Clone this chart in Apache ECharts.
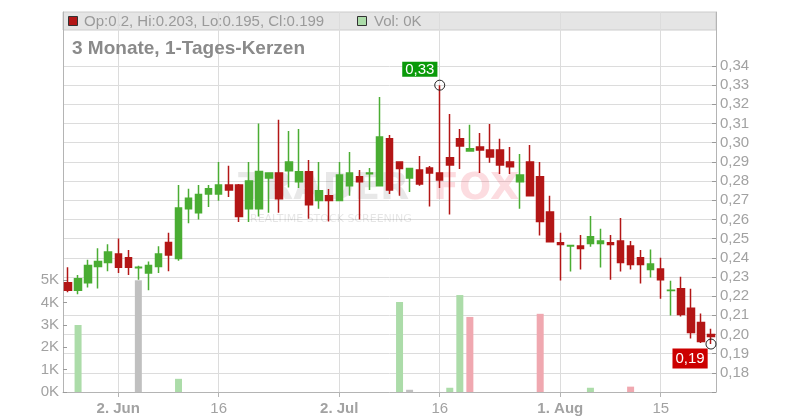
<!DOCTYPE html>
<html>
<head>
<meta charset="utf-8">
<script src="https://cdn.jsdelivr.net/npm/echarts@6/dist/echarts.min.js"></script>
<style>
html,body{margin:0;padding:0;background:#fff;}
#chart{width:800px;height:420px;}
</style>
</head>
<body>
<div id="chart"></div>
<script>
// ---- DATA ----
const dates = [
'2025-05-26','2025-05-27','2025-05-28','2025-05-29','2025-05-30',
'2025-06-02','2025-06-03','2025-06-04','2025-06-05','2025-06-06',
'2025-06-09','2025-06-10','2025-06-11','2025-06-12','2025-06-13',
'2025-06-16','2025-06-17','2025-06-18','2025-06-19','2025-06-20',
'2025-06-23','2025-06-24','2025-06-25','2025-06-26','2025-06-27',
'2025-06-30','2025-07-01','2025-07-02','2025-07-03','2025-07-04',
'2025-07-07','2025-07-08','2025-07-09','2025-07-10','2025-07-11',
'2025-07-14','2025-07-15','2025-07-16','2025-07-17','2025-07-18',
'2025-07-21','2025-07-22','2025-07-23','2025-07-24','2025-07-25',
'2025-07-28','2025-07-29','2025-07-30','2025-07-31','2025-08-01',
'2025-08-04','2025-08-05','2025-08-06','2025-08-07','2025-08-08',
'2025-08-11','2025-08-12','2025-08-13','2025-08-14','2025-08-15',
'2025-08-18','2025-08-19','2025-08-20','2025-08-21','2025-08-22'
];
const opens = [
0.227,0.223,0.227,0.2355,0.2375, 0.242,0.240,0.2348,0.232,0.2355,
0.248,0.2396,0.2655,0.2635,0.2733, 0.2733,0.278,0.278,0.2655,0.2656,
0.2816,0.2842,0.2854,0.2797,0.2848, 0.2698,0.2723,0.2698,0.2775,0.2822,
0.2838,0.2775,0.302,0.290,0.2816, 0.2858,0.2868,0.2842,0.2921,0.302,
0.2957,0.2978,0.2962,0.2962,0.290, 0.2796,0.290,0.2822,0.2639,0.2478,
0.2462,0.2462,0.2474,0.2474,0.2478, 0.2488,0.2462,0.2400,0.2339,0.2342,
0.2229,0.2238,0.2137,0.2062,0.2
];
const highs = [
0.235,0.231,0.239,0.245,0.247, 0.250,0.244,0.2358,0.238,0.246,
0.253,0.278,0.276,0.278,0.278, 0.290,0.288,0.2785,0.290,0.310,
0.2842,0.312,0.3061,0.3072,0.291, 0.290,0.2759,0.290,0.2952,0.2858,
0.2868,0.3238,0.304,0.290,0.2868, 0.2931,0.2879,0.330,0.315,0.3072,
0.3093,0.3051,0.3098,0.302,0.2978, 0.2941,0.2988,0.290,0.2723,0.253,
0.2464,0.2519,0.2618,0.2551,0.2519, 0.2608,0.2488,0.2441,0.2443,0.2400,
0.228,0.2301,0.2238,0.2109,0.203
];
const lows = [
0.222,0.221,0.2245,0.224,0.233, 0.232,0.231,0.2285,0.223,0.232,
0.233,0.2385,0.258,0.260,0.2665, 0.2697,0.2717,0.2587,0.2587,0.2615,
0.2635,0.2635,0.2766,0.2764,0.2604, 0.2656,0.2589,0.2698,0.2723,0.2599,
0.2754,0.2775,0.2733,0.2723,0.2743, 0.2775,0.2667,0.2764,0.2625,0.2863,
0.2957,0.2842,0.2895,0.2837,0.2837, 0.2655,0.2723,0.2516,0.2484,0.2281,
0.2328,0.2339,0.2458,0.2349,0.2286, 0.2328,0.2339,0.2266,0.2297,0.2186,
0.2099,0.2094,0.1979,0.1955,0.195
];
const closes = [
0.223,0.229,0.236,0.238,0.243, 0.235,0.235,0.235,0.236,0.242,
0.2415,0.266,0.271,0.273,0.276, 0.278,0.2754,0.2615,0.280,0.285,
0.2842,0.2708,0.290,0.2848,0.2677, 0.2749,0.2698,0.2832,0.2842,0.2796,
0.2842,0.303,0.2754,0.2865,0.2865, 0.2785,0.2842,0.2806,0.2884,0.2983,
0.2968,0.2962,0.2926,0.2884,0.2874, 0.2832,0.2723,0.2589,0.2484,0.2469,
0.2464,0.2448,0.2509,0.2488,0.2469, 0.2375,0.2365,0.2365,0.2368,0.2286,
0.2231,0.2104,0.201,0.1963,0.199
];
const volumes = [
0,3000,0,0,0, 0,0,5000,0,0,
0,590,0,0,0, 0,0,0,0,0,
0,0,0,0,0, 0,0,0,0,0,
0,0,0,4030,100, 0,0,0,190,4340,
3360,0,0,0,0, 0,0,3500,0,0,
0,0,190,0,0, 0,240,0,0,0,
0,0,0,0,0
];
const tickDates = ['2025-06-02','2025-06-16','2025-07-02','2025-07-16','2025-08-01','2025-08-15'];
const tickLabels = ['2. Jun','16','2. Jul','16','1. Aug','15'];
const titleText = '3 Monate, 1-Tages-Kerzen';

// ---- STYLE ----
const FONT = '"Liberation Sans", Arial, sans-serif';
const UP = '#4aad33', DOWN = '#b31616';
const VOL_UP = '#acdca9', VOL_DOWN = '#f0a8b0', VOL_FLAT = '#c0c0c0';
const GRID_C = '#dcdcdc', AXIS_C = '#b4b4b4', TEXT_C = '#a2a2a2';

const candleData = dates.map((d, i) => [opens[i], closes[i], lows[i], highs[i]]);
const isTick = (idx, val) => tickDates.indexOf(val) >= 0;
const fmtPrice = v => (Math.floor(v * 100 + 1e-9) / 100).toFixed(2).replace('.', ',');
const last = dates.length - 1;
const legendText = 'Op:' + opens[last] + ', Hi:' + highs[last] + ', Lo:' + lows[last] + ', Cl:' + closes[last];
const volText = 'Vol: ' + Math.round(volumes[last] / 1000) + 'K';

const chart = echarts.init(document.getElementById('chart'), null, {renderer: 'canvas'});
const L = 63, R = 84, B = 28;

chart.setOption({
  animation: false,
  textStyle: {fontFamily: FONT},
  title: {
    text: titleText, left: 67, top: 34,
    textStyle: {fontFamily: FONT, fontSize: 19, fontWeight: 'bold', color: '#8a8a8a'}
  },
  grid: [
    {left: L, right: R, top: 12, height: 54},
    {left: L, right: R, top: 66, bottom: B},
    {left: L, right: R, top: 280.3, bottom: B}
  ],
  xAxis: [
    {gridIndex: 0, type: 'category', data: dates, boundaryGap: true,
     axisLine: {show: false}, axisTick: {show: false},
     axisLabel: {show: false, interval: isTick},
     splitLine: {show: true, interval: isTick, alignWithLabel: true, lineStyle: {color: GRID_C, width: 1}}},
    {gridIndex: 1, type: 'category', data: dates, boundaryGap: true,
     axisLine: {show: true, lineStyle: {color: AXIS_C}},
     axisTick: {show: true, interval: isTick, alignWithLabel: true, length: 5, lineStyle: {color: AXIS_C}},
     axisLabel: {interval: isTick, margin: 9, fontSize: 15, color: TEXT_C, fontFamily: FONT,
       formatter: v => {
         const k = tickDates.indexOf(v);
         if (k < 0) return '';
         const t = tickLabels[k];
         return t.indexOf('.') >= 0 ? '{m|' + t + '}' : t;
       },
       rich: {m: {fontWeight: 'bold', fontSize: 15, color: TEXT_C, fontFamily: FONT}}},
     splitLine: {show: true, interval: isTick, alignWithLabel: true, lineStyle: {color: GRID_C, width: 1}}},
    {gridIndex: 2, type: 'category', data: dates, boundaryGap: true, show: false}
  ],
  yAxis: [
    {gridIndex: 0, type: 'value', position: 'left', min: 0, max: 1,
     axisLine: {show: true, lineStyle: {color: AXIS_C}}, axisLabel: {show: false}, axisTick: {show: false}, splitLine: {show: false}},
    {gridIndex: 0, type: 'value', position: 'right', min: 0, max: 1,
     axisLine: {show: true, lineStyle: {color: AXIS_C}}, axisLabel: {show: false}, axisTick: {show: false}, splitLine: {show: false}},
    {gridIndex: 1, type: 'value', position: 'right', min: 0.17, max: 0.34, interval: 0.01,
     axisLine: {show: true, lineStyle: {color: AXIS_C}},
     axisTick: {show: true, inside: true, length: 4, lineStyle: {color: '#9a9a9a'}},
     axisLabel: {margin: 4, fontSize: 15, color: TEXT_C, fontFamily: FONT,
       formatter: v => v < 0.175 ? '' : v.toFixed(2).replace('.', ',')},
     splitLine: {show: true, lineStyle: {color: GRID_C, width: 1}}},
    {gridIndex: 1, type: 'value', position: 'left', min: 0.17, max: 0.34,
     axisLine: {show: true, lineStyle: {color: AXIS_C}}, axisLabel: {show: false}, axisTick: {show: false}, splitLine: {show: false}},
    {gridIndex: 2, type: 'value', position: 'left', min: 0, max: 5000, interval: 1000,
     axisLine: {show: true, lineStyle: {color: AXIS_C}},
     axisTick: {show: true, inside: true, length: 4, lineStyle: {color: '#9a9a9a'}},
     axisLabel: {margin: 4, fontSize: 15, color: TEXT_C, fontFamily: FONT, formatter: v => Math.round(v / 1000) + 'K'},
     splitLine: {show: false}}
  ],
  graphic: [
    {type: 'rect', z: -1, shape: {x: 63, y: 12, width: 653, height: 18},
     style: {fill: '#e5e5e5', stroke: '#cccccc', lineWidth: 1}},
    {type: 'rect', z: -1, shape: {x: 68.5, y: 16.5, width: 9, height: 9},
     style: {fill: DOWN, stroke: '#333', lineWidth: 1}},
    {type: 'text', z: -1, x: 84, y: 21.5,
     style: {text: legendText, font: '15px ' + FONT, fill: '#9a9a9a', verticalAlign: 'middle'}},
    {type: 'rect', z: -1, shape: {x: 357.5, y: 16.5, width: 9, height: 9},
     style: {fill: VOL_UP, stroke: '#333', lineWidth: 1}},
    {type: 'text', z: -1, x: 374, y: 21.5,
     style: {text: volText, font: '15px ' + FONT, fill: '#9a9a9a', verticalAlign: 'middle'}},
    {type: 'text', z: 1, x: 238, y: 189,
     style: {text: 'TRADER', font: 'bold 38px "DejaVu Sans"', fill: 'rgba(0,0,0,0.09)', verticalAlign: 'middle'}},
    {type: 'text', z: 1, x: 433, y: 189,
     style: {text: 'FOX', font: 'bold 38px "DejaVu Sans"', fill: 'rgba(235,50,70,0.17)', verticalAlign: 'middle'}},
    {type: 'text', z: 1, x: 250, y: 219,
     style: {text: 'REALTIME STOCK SCREENING', font: '11px "DejaVu Sans"', fill: 'rgba(0,0,0,0.1)', verticalAlign: 'middle'}}
  ],
  series: [
    {type: 'candlestick', xAxisIndex: 1, yAxisIndex: 2, data: candleData, barWidth: 7,
     itemStyle: {color: UP, color0: DOWN, borderColor: UP, borderColor0: DOWN, borderWidth: 1.5},
     markPoint: {
       symbol: 'circle', symbolSize: 10, silent: true,
       itemStyle: {color: 'rgba(255,255,255,0)', borderColor: '#222', borderWidth: 1},
       label: {show: true, color: '#fff', fontSize: 15, fontFamily: FONT, padding: [1, 3, 0, 3], lineHeight: 14,
         formatter: p => fmtPrice(p.value)},
       data: [
         {type: 'max', valueDim: 'highest', label: {position: [-32, -18], backgroundColor: '#0a9a0a'}},
         {type: 'min', valueDim: 'lowest', label: {position: [-33, 10], padding: [3, 3, 3, 3], backgroundColor: '#cc0000'}}
       ]
     }},
    {type: 'bar', xAxisIndex: 2, yAxisIndex: 4, data: volumes, barWidth: 7,
     itemStyle: {color: p => {
       const i = p.dataIndex;
       if (i === 0) return VOL_FLAT;
       if (closes[i] > closes[i - 1]) return VOL_UP;
       if (closes[i] < closes[i - 1]) return VOL_DOWN;
       return VOL_FLAT;
     }}}
  ]
});
</script>
</body>
</html>
